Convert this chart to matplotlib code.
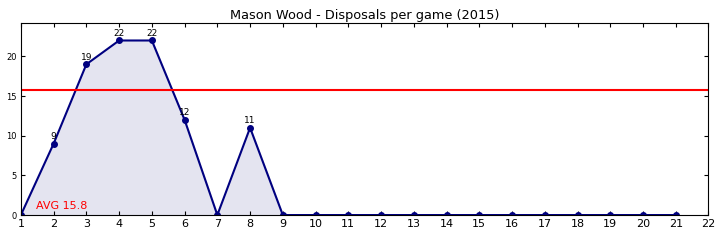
import matplotlib
matplotlib.use("Agg")
import matplotlib.pyplot as plt

rounds = list(range(1, 22))
disposals = [0, 9, 19, 22, 22, 12, 0, 11, 0, 0, 0, 0, 0, 0, 0, 0, 0, 0, 0, 0, 0]
average = 15.8
title = "Mason Wood - Disposals per game (2015)"

fig, ax = plt.subplots(figsize=(7.2, 2.4), dpi=100)
fig.subplots_adjust(left=0.029, right=0.984, top=0.904, bottom=0.104)

ax.fill_between(rounds, disposals, color="#e4e4f0")
ax.plot(rounds, disposals, color="navy", lw=1.5, marker="o", ms=4)
ax.axhline(average, color="red", lw=1.5)

for r, d in zip(rounds, disposals):
    if d > 0:
        ax.annotate(str(d), (r, d), xytext=(0, 2), textcoords="offset points",
                    ha="center", va="bottom", fontsize=6.5)

ax.text(1.45, 0.8, "AVG %.1f" % average, color="red", fontsize=8)

ax.set_xlim(1, 22)
ax.set_ylim(0, max(disposals) * 1.1)
ax.set_xticks(range(1, 23))
ax.set_yticks([0, 5, 10, 15, 20])
ax.tick_params(axis="x", labelsize=8, direction="in", pad=3)
ax.tick_params(axis="y", labelsize=6, direction="in", pad=3)
ax.tick_params(top=True, right=True, direction="in", length=3)
ax.set_title(title, fontsize=9.3, pad=3)

fig.savefig("out.png")
